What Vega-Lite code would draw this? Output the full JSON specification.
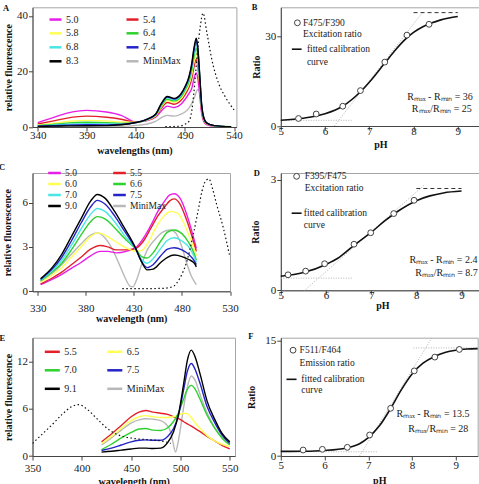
{
  "$schema": "https://vega.github.io/schema/vega-lite/v6.json",
  "autosize": {"type": "none"},
  "padding": {"left": 32.5, "top": 7.3, "right": 446.5, "bottom": 476.7},
  "columns": 2,
  "align": {"row": "each", "column": "none"},
  "bounds": "flush",
  "spacing": {"row": 45.7, "column": 44.3},
  "resolve": {"scale": {"color": "independent"}, "legend": {"color": "independent"}},
  "config": {
    "font": "Liberation Serif",
    "view": {"stroke": "#a6a6a6", "strokeWidth": 1},
    "axis": {"grid": false, "domainColor": "#444", "tickColor": "#444", "tickSize": 4, "labelFont": "Liberation Serif", "labelFontSize": 11, "labelColor": "#1a1a1a", "labelPadding": 1, "labelFlush": false, "labelOverlap": false, "titleFont": "Liberation Serif", "titleFontSize": 10, "titleFontWeight": "bold", "titleColor": "#111", "titlePadding": 3},
    "legend": {"symbolType": "stroke", "symbolStrokeWidth": 2.5, "labelFont": "Liberation Serif", "labelFontSize": 10, "labelColor": "#1a1a1a", "labelOffset": 3, "padding": 0, "direction": "horizontal"},
    "title": {"font": "Liberation Serif", "fontSize": 8.5, "fontWeight": "bold", "anchor": "start", "frame": "group", "offset": 0, "color": "#111"},
    "text": {"font": "Liberation Serif"}
  },
  "datasets": {
    "spectraA": [
      {"w":340,"v":0.1,"s":"MiniMax"},{"w":390,"v":0.15,"s":"MiniMax"},{"w":425,"v":0.25,"s":"MiniMax"},{"w":440,"v":0.6,"s":"MiniMax"},{"w":450,"v":1.0,"s":"MiniMax"},{"w":460,"v":2.0,"s":"MiniMax"},{"w":466,"v":3.4,"s":"MiniMax"},{"w":472,"v":4.2,"s":"MiniMax"},{"w":479,"v":3.9,"s":"MiniMax"},{"w":486,"v":4.6,"s":"MiniMax"},{"w":490,"v":5.4,"s":"MiniMax"},{"w":494,"v":6.8,"s":"MiniMax"},{"w":497,"v":8.5,"s":"MiniMax"},{"w":500,"v":11.0,"s":"MiniMax"},{"w":503,"v":13.5,"s":"MiniMax"},{"w":505,"v":12.5,"s":"MiniMax"},{"w":507,"v":8.0,"s":"MiniMax"},{"w":509,"v":4.0,"s":"MiniMax"},{"w":512,"v":1.5,"s":"MiniMax"},{"w":520,"v":0.4,"s":"MiniMax"},{"w":537,"v":0.1,"s":"MiniMax"},
      {"w":340,"v":1.6,"s":"5.0"},{"w":355,"v":3.3,"s":"5.0"},{"w":370,"v":5.0,"s":"5.0"},{"w":390,"v":6.0,"s":"5.0"},{"w":410,"v":5.4,"s":"5.0"},{"w":425,"v":4.2,"s":"5.0"},{"w":440,"v":1.8,"s":"5.0"},{"w":450,"v":2.2,"s":"5.0"},{"w":460,"v":3.5,"s":"5.0"},{"w":466,"v":5.8,"s":"5.0"},{"w":472,"v":7.5,"s":"5.0"},{"w":479,"v":7.0,"s":"5.0"},{"w":486,"v":8.2,"s":"5.0"},{"w":490,"v":9.9,"s":"5.0"},{"w":494,"v":12.0,"s":"5.0"},{"w":497,"v":14.0,"s":"5.0"},{"w":499,"v":17.1,"s":"5.0"},{"w":501.5,"v":19.5,"s":"5.0"},{"w":503,"v":17.7,"s":"5.0"},{"w":505,"v":11.6,"s":"5.0"},{"w":507,"v":4.9,"s":"5.0"},{"w":509,"v":2.1,"s":"5.0"},{"w":512,"v":0.9,"s":"5.0"},{"w":520,"v":0.3,"s":"5.0"},{"w":537,"v":0.1,"s":"5.0"},
      {"w":340,"v":1.1,"s":"5.4"},{"w":355,"v":2.1,"s":"5.4"},{"w":370,"v":3.2,"s":"5.4"},{"w":390,"v":3.9,"s":"5.4"},{"w":410,"v":3.5,"s":"5.4"},{"w":425,"v":2.8,"s":"5.4"},{"w":440,"v":1.75,"s":"5.4"},{"w":450,"v":2.3,"s":"5.4"},{"w":460,"v":3.8,"s":"5.4"},{"w":466,"v":6.8,"s":"5.4"},{"w":472,"v":8.8,"s":"5.4"},{"w":479,"v":8.2,"s":"5.4"},{"w":486,"v":9.6,"s":"5.4"},{"w":490,"v":11.6,"s":"5.4"},{"w":494,"v":14.2,"s":"5.4"},{"w":497,"v":17.5,"s":"5.4"},{"w":499,"v":21.3,"s":"5.4"},{"w":501.5,"v":24.3,"s":"5.4"},{"w":503,"v":22.0,"s":"5.4"},{"w":505,"v":14.4,"s":"5.4"},{"w":507,"v":6.1,"s":"5.4"},{"w":509,"v":2.7,"s":"5.4"},{"w":512,"v":1.1,"s":"5.4"},{"w":520,"v":0.4,"s":"5.4"},{"w":537,"v":0.1,"s":"5.4"},
      {"w":340,"v":0.7,"s":"5.8"},{"w":355,"v":1.3,"s":"5.8"},{"w":370,"v":2.0,"s":"5.8"},{"w":390,"v":2.4,"s":"5.8"},{"w":410,"v":2.2,"s":"5.8"},{"w":425,"v":1.8,"s":"5.8"},{"w":440,"v":1.7,"s":"5.8"},{"w":450,"v":2.4,"s":"5.8"},{"w":460,"v":4.0,"s":"5.8"},{"w":466,"v":7.3,"s":"5.8"},{"w":472,"v":9.5,"s":"5.8"},{"w":479,"v":8.9,"s":"5.8"},{"w":486,"v":10.3,"s":"5.8"},{"w":490,"v":12.5,"s":"5.8"},{"w":494,"v":15.3,"s":"5.8"},{"w":497,"v":19.1,"s":"5.8"},{"w":499,"v":23.2,"s":"5.8"},{"w":501.5,"v":26.6,"s":"5.8"},{"w":503,"v":24.1,"s":"5.8"},{"w":505,"v":15.8,"s":"5.8"},{"w":507,"v":6.6,"s":"5.8"},{"w":509,"v":2.9,"s":"5.8"},{"w":512,"v":1.25,"s":"5.8"},{"w":520,"v":0.4,"s":"5.8"},{"w":537,"v":0.1,"s":"5.8"},
      {"w":340,"v":0.5,"s":"6.4"},{"w":355,"v":0.9,"s":"6.4"},{"w":370,"v":1.4,"s":"6.4"},{"w":390,"v":1.7,"s":"6.4"},{"w":410,"v":1.55,"s":"6.4"},{"w":425,"v":1.3,"s":"6.4"},{"w":440,"v":1.65,"s":"6.4"},{"w":450,"v":2.5,"s":"6.4"},{"w":460,"v":4.2,"s":"6.4"},{"w":466,"v":7.7,"s":"6.4"},{"w":472,"v":10.0,"s":"6.4"},{"w":479,"v":9.4,"s":"6.4"},{"w":486,"v":10.9,"s":"6.4"},{"w":490,"v":13.2,"s":"6.4"},{"w":494,"v":16.2,"s":"6.4"},{"w":497,"v":20.5,"s":"6.4"},{"w":499,"v":24.9,"s":"6.4"},{"w":501.5,"v":28.5,"s":"6.4"},{"w":503,"v":25.8,"s":"6.4"},{"w":505,"v":16.9,"s":"6.4"},{"w":507,"v":7.1,"s":"6.4"},{"w":509,"v":3.1,"s":"6.4"},{"w":512,"v":1.3,"s":"6.4"},{"w":520,"v":0.45,"s":"6.4"},{"w":537,"v":0.1,"s":"6.4"},
      {"w":340,"v":0.35,"s":"6.8"},{"w":355,"v":0.65,"s":"6.8"},{"w":370,"v":1.0,"s":"6.8"},{"w":390,"v":1.2,"s":"6.8"},{"w":410,"v":1.1,"s":"6.8"},{"w":425,"v":1.0,"s":"6.8"},{"w":440,"v":1.6,"s":"6.8"},{"w":450,"v":2.5,"s":"6.8"},{"w":460,"v":4.4,"s":"6.8"},{"w":466,"v":8.1,"s":"6.8"},{"w":472,"v":10.5,"s":"6.8"},{"w":479,"v":9.8,"s":"6.8"},{"w":486,"v":11.5,"s":"6.8"},{"w":490,"v":13.8,"s":"6.8"},{"w":494,"v":17.0,"s":"6.8"},{"w":497,"v":21.7,"s":"6.8"},{"w":499,"v":26.5,"s":"6.8"},{"w":501.5,"v":30.2,"s":"6.8"},{"w":503,"v":27.4,"s":"6.8"},{"w":505,"v":18.0,"s":"6.8"},{"w":507,"v":7.6,"s":"6.8"},{"w":509,"v":3.3,"s":"6.8"},{"w":512,"v":1.4,"s":"6.8"},{"w":520,"v":0.5,"s":"6.8"},{"w":537,"v":0.1,"s":"6.8"},
      {"w":340,"v":0.3,"s":"7.4"},{"w":355,"v":0.45,"s":"7.4"},{"w":370,"v":0.65,"s":"7.4"},{"w":390,"v":0.8,"s":"7.4"},{"w":410,"v":0.75,"s":"7.4"},{"w":425,"v":0.9,"s":"7.4"},{"w":440,"v":1.6,"s":"7.4"},{"w":450,"v":2.6,"s":"7.4"},{"w":460,"v":4.5,"s":"7.4"},{"w":466,"v":8.3,"s":"7.4"},{"w":472,"v":10.8,"s":"7.4"},{"w":479,"v":10.1,"s":"7.4"},{"w":486,"v":11.8,"s":"7.4"},{"w":490,"v":14.2,"s":"7.4"},{"w":494,"v":17.6,"s":"7.4"},{"w":497,"v":22.4,"s":"7.4"},{"w":499,"v":27.3,"s":"7.4"},{"w":501.5,"v":31.2,"s":"7.4"},{"w":503,"v":28.3,"s":"7.4"},{"w":505,"v":18.5,"s":"7.4"},{"w":507,"v":7.8,"s":"7.4"},{"w":509,"v":3.4,"s":"7.4"},{"w":512,"v":1.5,"s":"7.4"},{"w":520,"v":0.5,"s":"7.4"},{"w":537,"v":0.1,"s":"7.4"},
      {"w":340,"v":0.2,"s":"8.3"},{"w":355,"v":0.3,"s":"8.3"},{"w":370,"v":0.4,"s":"8.3"},{"w":390,"v":0.45,"s":"8.3"},{"w":410,"v":0.5,"s":"8.3"},{"w":425,"v":0.8,"s":"8.3"},{"w":440,"v":1.6,"s":"8.3"},{"w":450,"v":2.6,"s":"8.3"},{"w":460,"v":4.6,"s":"8.3"},{"w":466,"v":8.5,"s":"8.3"},{"w":472,"v":11.0,"s":"8.3"},{"w":479,"v":10.3,"s":"8.3"},{"w":486,"v":12.0,"s":"8.3"},{"w":490,"v":14.5,"s":"8.3"},{"w":494,"v":18.0,"s":"8.3"},{"w":497,"v":23.0,"s":"8.3"},{"w":499,"v":28.0,"s":"8.3"},{"w":501.5,"v":32.0,"s":"8.3"},{"w":503,"v":29.0,"s":"8.3"},{"w":505,"v":19.0,"s":"8.3"},{"w":507,"v":8.0,"s":"8.3"},{"w":509,"v":3.5,"s":"8.3"},{"w":512,"v":1.5,"s":"8.3"},{"w":520,"v":0.5,"s":"8.3"},{"w":537,"v":0.1,"s":"8.3"}
    ],
    "dottedA": [
      {"w":470,"v":0.1},{"w":485,"v":0.3},{"w":490,"v":1.0},{"w":494,"v":2.0},{"w":497,"v":6.0},{"w":499,"v":12.0},{"w":501,"v":20.0},{"w":503,"v":28.0},{"w":505.6,"v":36.2},{"w":508.4,"v":41.0},{"w":512.4,"v":33.8},{"w":517.5,"v":24.1},{"w":524.3,"v":15.7},{"w":531,"v":10.9},{"w":540,"v":6.2}
    ],
    "pointsB": [
      {"x":5.4,"y":2.5},{"x":5.8,"y":4.0},{"x":6.4,"y":6.6},{"x":6.8,"y":11.8},{"x":7.35,"y":21.3},{"x":7.85,"y":30.3},{"x":8.35,"y":33.9}
    ],
    "fitB": [
      {"x":5.0,"y":1.9},{"x":5.5,"y":2.6},{"x":6.0,"y":4.1},{"x":6.4,"y":6.6},{"x":6.8,"y":11.4},{"x":7.0,"y":14.6},{"x":7.2,"y":18.2},{"x":7.4,"y":21.9},{"x":7.6,"y":25.5},{"x":7.8,"y":28.7},{"x":8.0,"y":31.2},{"x":8.2,"y":33.0},{"x":8.4,"y":34.3},{"x":8.6,"y":35.3},{"x":8.8,"y":36.0},{"x":9.0,"y":36.5}
    ],
    "guidesB": [{"x":6.21,"y":0,"x2":8.21,"y2":38},{"x":5.0,"y":1.9,"x2":6.6,"y2":1.9}],
    "capB": [{"x":8.0,"y":37.8,"x2":9.0,"y2":37.8}],
    "keyPtB": [{"x":5.375,"y":34.4}],
    "keyLineB": [{"x":5.25,"x2":5.47,"y":25.6}],
    "notesB": [
      {"x":5.5,"y":34.4,"t":"F475/F390"},{"x":5.5,"y":30.6,"t":"Excitation ratio"},{"x":5.59,"y":25.6,"t":"fitted calibration"},{"x":5.59,"y":21.4,"t":"curve"}
    ],
    "ratiosB": [{"x":8.6,"y":9.8,"t":"Rₘₐₓ - Rₘᵢₙ = 36"},{"x":8.64,"y":5.7,"t":"Rₘₐₓ/Rₘᵢₙ = 25"}],
    "spectraC": [
      {"w":333,"v":0.65,"s":"MiniMax"},{"w":345,"v":1.2,"s":"MiniMax"},{"w":355,"v":1.8,"s":"MiniMax"},{"w":365,"v":2.5,"s":"MiniMax"},{"w":375,"v":3.2,"s":"MiniMax"},{"w":385,"v":3.8,"s":"MiniMax"},{"w":392,"v":3.95,"s":"MiniMax"},{"w":400,"v":3.6,"s":"MiniMax"},{"w":408,"v":2.8,"s":"MiniMax"},{"w":415,"v":1.8,"s":"MiniMax"},{"w":421,"v":0.9,"s":"MiniMax"},{"w":426,"v":0.35,"s":"MiniMax"},{"w":429,"v":0.3,"s":"MiniMax"},{"w":433,"v":0.8,"s":"MiniMax"},{"w":438,"v":1.8,"s":"MiniMax"},{"w":444,"v":2.8,"s":"MiniMax"},{"w":452,"v":3.5,"s":"MiniMax"},{"w":460,"v":4.0,"s":"MiniMax"},{"w":468,"v":4.15,"s":"MiniMax"},{"w":474,"v":3.9,"s":"MiniMax"},{"w":480,"v":3.0,"s":"MiniMax"},{"w":485,"v":1.9,"s":"MiniMax"},{"w":490,"v":1.0,"s":"MiniMax"},{"w":495,"v":0.45,"s":"MiniMax"},
      {"w":333,"v":0.45,"s":"5.0"},{"w":345,"v":0.8,"s":"5.0"},{"w":355,"v":1.15,"s":"5.0"},{"w":365,"v":1.55,"s":"5.0"},{"w":375,"v":1.95,"s":"5.0"},{"w":385,"v":2.4,"s":"5.0"},{"w":395,"v":2.7,"s":"5.0"},{"w":403,"v":2.7,"s":"5.0"},{"w":412,"v":2.6,"s":"5.0"},{"w":422,"v":2.7,"s":"5.0"},{"w":432,"v":2.95,"s":"5.0"},{"w":440,"v":3.6,"s":"5.0"},{"w":448,"v":4.5,"s":"5.0"},{"w":455,"v":5.4,"s":"5.0"},{"w":462,"v":6.1,"s":"5.0"},{"w":467,"v":6.5,"s":"5.0"},{"w":472,"v":6.6,"s":"5.0"},{"w":478,"v":6.3,"s":"5.0"},{"w":485,"v":5.2,"s":"5.0"},{"w":491,"v":3.9,"s":"5.0"},{"w":495,"v":2.9,"s":"5.0"},
      {"w":333,"v":0.5,"s":"5.5"},{"w":345,"v":0.9,"s":"5.5"},{"w":355,"v":1.3,"s":"5.5"},{"w":365,"v":1.8,"s":"5.5"},{"w":375,"v":2.3,"s":"5.5"},{"w":385,"v":2.85,"s":"5.5"},{"w":395,"v":3.1,"s":"5.5"},{"w":403,"v":3.0,"s":"5.5"},{"w":412,"v":2.8,"s":"5.5"},{"w":422,"v":2.8,"s":"5.5"},{"w":432,"v":2.9,"s":"5.5"},{"w":440,"v":3.4,"s":"5.5"},{"w":448,"v":4.3,"s":"5.5"},{"w":455,"v":5.1,"s":"5.5"},{"w":462,"v":5.7,"s":"5.5"},{"w":467,"v":6.1,"s":"5.5"},{"w":472,"v":6.25,"s":"5.5"},{"w":478,"v":5.9,"s":"5.5"},{"w":485,"v":4.8,"s":"5.5"},{"w":491,"v":3.6,"s":"5.5"},{"w":495,"v":2.7,"s":"5.5"},
      {"w":333,"v":0.6,"s":"6.0"},{"w":345,"v":1.1,"s":"6.0"},{"w":355,"v":1.6,"s":"6.0"},{"w":365,"v":2.3,"s":"6.0"},{"w":375,"v":3.0,"s":"6.0"},{"w":385,"v":3.7,"s":"6.0"},{"w":393,"v":3.95,"s":"6.0"},{"w":400,"v":3.8,"s":"6.0"},{"w":410,"v":3.4,"s":"6.0"},{"w":420,"v":3.0,"s":"6.0"},{"w":432,"v":2.7,"s":"6.0"},{"w":438,"v":2.75,"s":"6.0"},{"w":445,"v":3.3,"s":"6.0"},{"w":452,"v":4.2,"s":"6.0"},{"w":460,"v":5.0,"s":"6.0"},{"w":468,"v":5.4,"s":"6.0"},{"w":475,"v":5.3,"s":"6.0"},{"w":482,"v":4.6,"s":"6.0"},{"w":489,"v":3.5,"s":"6.0"},{"w":495,"v":2.4,"s":"6.0"},
      {"w":333,"v":0.7,"s":"6.6"},{"w":345,"v":1.3,"s":"6.6"},{"w":355,"v":1.9,"s":"6.6"},{"w":365,"v":2.8,"s":"6.6"},{"w":375,"v":3.8,"s":"6.6"},{"w":385,"v":4.7,"s":"6.6"},{"w":392,"v":5.05,"s":"6.6"},{"w":400,"v":4.9,"s":"6.6"},{"w":410,"v":4.3,"s":"6.6"},{"w":420,"v":3.6,"s":"6.6"},{"w":432,"v":2.85,"s":"6.6"},{"w":438,"v":2.35,"s":"6.6"},{"w":444,"v":2.25,"s":"6.6"},{"w":450,"v":2.6,"s":"6.6"},{"w":458,"v":3.4,"s":"6.6"},{"w":465,"v":4.0,"s":"6.6"},{"w":472,"v":4.15,"s":"6.6"},{"w":480,"v":3.9,"s":"6.6"},{"w":487,"v":3.3,"s":"6.6"},{"w":493,"v":2.5,"s":"6.6"},{"w":495,"v":2.1,"s":"6.6"},
      {"w":333,"v":0.75,"s":"7.0"},{"w":345,"v":1.4,"s":"7.0"},{"w":355,"v":2.1,"s":"7.0"},{"w":365,"v":3.1,"s":"7.0"},{"w":375,"v":4.2,"s":"7.0"},{"w":385,"v":5.2,"s":"7.0"},{"w":392,"v":5.6,"s":"7.0"},{"w":400,"v":5.4,"s":"7.0"},{"w":410,"v":4.7,"s":"7.0"},{"w":420,"v":3.8,"s":"7.0"},{"w":432,"v":2.85,"s":"7.0"},{"w":438,"v":2.15,"s":"7.0"},{"w":444,"v":1.9,"s":"7.0"},{"w":450,"v":2.2,"s":"7.0"},{"w":458,"v":2.9,"s":"7.0"},{"w":465,"v":3.45,"s":"7.0"},{"w":472,"v":3.62,"s":"7.0"},{"w":480,"v":3.4,"s":"7.0"},{"w":487,"v":3.0,"s":"7.0"},{"w":493,"v":2.3,"s":"7.0"},{"w":495,"v":1.95,"s":"7.0"},
      {"w":333,"v":0.8,"s":"7.5"},{"w":345,"v":1.5,"s":"7.5"},{"w":355,"v":2.3,"s":"7.5"},{"w":365,"v":3.4,"s":"7.5"},{"w":375,"v":4.6,"s":"7.5"},{"w":385,"v":5.7,"s":"7.5"},{"w":392,"v":6.15,"s":"7.5"},{"w":400,"v":5.9,"s":"7.5"},{"w":410,"v":5.1,"s":"7.5"},{"w":420,"v":4.1,"s":"7.5"},{"w":432,"v":2.85,"s":"7.5"},{"w":438,"v":2.0,"s":"7.5"},{"w":444,"v":1.6,"s":"7.5"},{"w":450,"v":1.8,"s":"7.5"},{"w":458,"v":2.4,"s":"7.5"},{"w":465,"v":2.85,"s":"7.5"},{"w":472,"v":2.95,"s":"7.5"},{"w":480,"v":2.8,"s":"7.5"},{"w":487,"v":2.5,"s":"7.5"},{"w":493,"v":2.05,"s":"7.5"},{"w":495,"v":1.8,"s":"7.5"},
      {"w":333,"v":0.85,"s":"9.0"},{"w":345,"v":1.6,"s":"9.0"},{"w":355,"v":2.5,"s":"9.0"},{"w":365,"v":3.7,"s":"9.0"},{"w":375,"v":4.9,"s":"9.0"},{"w":385,"v":6.1,"s":"9.0"},{"w":392,"v":6.55,"s":"9.0"},{"w":400,"v":6.3,"s":"9.0"},{"w":410,"v":5.4,"s":"9.0"},{"w":420,"v":4.3,"s":"9.0"},{"w":432,"v":2.9,"s":"9.0"},{"w":438,"v":2.0,"s":"9.0"},{"w":444,"v":1.45,"s":"9.0"},{"w":450,"v":1.5,"s":"9.0"},{"w":458,"v":1.95,"s":"9.0"},{"w":465,"v":2.3,"s":"9.0"},{"w":472,"v":2.45,"s":"9.0"},{"w":480,"v":2.35,"s":"9.0"},{"w":487,"v":2.15,"s":"9.0"},{"w":493,"v":1.9,"s":"9.0"},{"w":495,"v":1.65,"s":"9.0"}
    ],
    "dottedC": [
      {"w":418,"v":0.18},{"w":440,"v":0.18},{"w":460,"v":0.2},{"w":470,"v":0.3},{"w":478,"v":0.9},{"w":485,"v":2.0},{"w":492,"v":3.9},{"w":497,"v":5.5},{"w":501,"v":6.8},{"w":505,"v":7.5},{"w":508,"v":7.6},{"w":512,"v":6.9},{"w":516,"v":5.9},{"w":523,"v":4.3},{"w":530,"v":2.3}
    ],
    "pointsD": [
      {"x":5.16,"y":0.42},{"x":5.55,"y":0.52},{"x":5.97,"y":0.72},{"x":6.62,"y":1.25},{"x":6.99,"y":1.56},{"x":7.5,"y":2.08},{"x":7.95,"y":2.44}
    ],
    "fitD": [
      {"x":5.0,"y":0.38},{"x":5.5,"y":0.48},{"x":6.0,"y":0.7},{"x":6.3,"y":0.9},{"x":6.6,"y":1.2},{"x":7.0,"y":1.57},{"x":7.3,"y":1.88},{"x":7.6,"y":2.15},{"x":8.0,"y":2.43},{"x":8.3,"y":2.56},{"x":8.6,"y":2.64},{"x":9.0,"y":2.69}
    ],
    "guidesD": [{"x":5.53,"y":0,"x2":8.19,"y2":2.87},{"x":5.0,"y":0.33,"x2":6.6,"y2":0.33}],
    "capD": [{"x":8.0,"y":2.76,"x2":9.0,"y2":2.76}],
    "keyPtD": [{"x":5.35,"y":3.09}],
    "keyLineD": [{"x":5.24,"x2":5.46,"y":2.09}],
    "notesD": [
      {"x":5.53,"y":3.09,"t":"F395/F475"},{"x":5.53,"y":2.78,"t":"Excitation ratio"},{"x":5.51,"y":2.09,"t":"fitted calibration"},{"x":5.51,"y":1.76,"t":"curve"}
    ],
    "ratiosD": [{"x":8.6,"y":0.83,"t":"Rₘₐₓ - Rₘᵢₙ = 2.4"},{"x":8.67,"y":0.48,"t":"Rₘₐₓ/Rₘᵢₙ = 8.7"}],
    "spectraE": [
      {"w":420,"v":1.4,"s":"MiniMax"},{"w":430,"v":2.3,"s":"MiniMax"},{"w":440,"v":3.3,"s":"MiniMax"},{"w":450,"v":4.2,"s":"MiniMax"},{"w":458,"v":4.6,"s":"MiniMax"},{"w":465,"v":4.75,"s":"MiniMax"},{"w":472,"v":4.7,"s":"MiniMax"},{"w":480,"v":4.5,"s":"MiniMax"},{"w":485,"v":4.1,"s":"MiniMax"},{"w":489,"v":3.4,"s":"MiniMax"},{"w":492,"v":2.0,"s":"MiniMax"},{"w":495,"v":0.5,"s":"MiniMax"},{"w":498,"v":2.0,"s":"MiniMax"},{"w":503,"v":6.0,"s":"MiniMax"},{"w":507,"v":8.8,"s":"MiniMax"},{"w":511,"v":10.2,"s":"MiniMax"},{"w":515,"v":9.6,"s":"MiniMax"},{"w":520,"v":7.8,"s":"MiniMax"},{"w":527,"v":5.5,"s":"MiniMax"},{"w":535,"v":3.6,"s":"MiniMax"},{"w":542,"v":2.4,"s":"MiniMax"},{"w":550,"v":1.5,"s":"MiniMax"},
      {"w":420,"v":1.8,"s":"5.5"},{"w":430,"v":2.8,"s":"5.5"},{"w":440,"v":3.9,"s":"5.5"},{"w":450,"v":5.0,"s":"5.5"},{"w":458,"v":5.6,"s":"5.5"},{"w":465,"v":5.8,"s":"5.5"},{"w":472,"v":5.6,"s":"5.5"},{"w":480,"v":5.45,"s":"5.5"},{"w":487,"v":5.3,"s":"5.5"},{"w":493,"v":5.0,"s":"5.5"},{"w":498,"v":4.75,"s":"5.5"},{"w":503,"v":4.4,"s":"5.5"},{"w":507,"v":4.1,"s":"5.5"},{"w":511,"v":3.8,"s":"5.5"},{"w":515,"v":3.5,"s":"5.5"},{"w":520,"v":3.1,"s":"5.5"},{"w":527,"v":2.5,"s":"5.5"},{"w":535,"v":1.9,"s":"5.5"},{"w":542,"v":1.35,"s":"5.5"},{"w":550,"v":0.9,"s":"5.5"},
      {"w":420,"v":1.6,"s":"6.5"},{"w":430,"v":2.5,"s":"6.5"},{"w":440,"v":3.5,"s":"6.5"},{"w":450,"v":4.5,"s":"6.5"},{"w":458,"v":5.0,"s":"6.5"},{"w":465,"v":5.15,"s":"6.5"},{"w":472,"v":5.0,"s":"6.5"},{"w":480,"v":4.9,"s":"6.5"},{"w":487,"v":4.9,"s":"6.5"},{"w":493,"v":5.0,"s":"6.5"},{"w":498,"v":5.2,"s":"6.5"},{"w":503,"v":5.45,"s":"6.5"},{"w":507,"v":5.4,"s":"6.5"},{"w":511,"v":4.9,"s":"6.5"},{"w":515,"v":4.2,"s":"6.5"},{"w":520,"v":3.5,"s":"6.5"},{"w":527,"v":2.6,"s":"6.5"},{"w":535,"v":1.9,"s":"6.5"},{"w":542,"v":1.5,"s":"6.5"},{"w":550,"v":1.2,"s":"6.5"},
      {"w":420,"v":0.8,"s":"7.0"},{"w":430,"v":1.5,"s":"7.0"},{"w":440,"v":2.3,"s":"7.0"},{"w":450,"v":3.0,"s":"7.0"},{"w":458,"v":3.45,"s":"7.0"},{"w":465,"v":3.5,"s":"7.0"},{"w":472,"v":3.3,"s":"7.0"},{"w":480,"v":3.25,"s":"7.0"},{"w":487,"v":3.6,"s":"7.0"},{"w":493,"v":4.4,"s":"7.0"},{"w":498,"v":5.5,"s":"7.0"},{"w":503,"v":7.2,"s":"7.0"},{"w":507,"v":8.5,"s":"7.0"},{"w":511,"v":9.0,"s":"7.0"},{"w":515,"v":8.5,"s":"7.0"},{"w":520,"v":7.2,"s":"7.0"},{"w":527,"v":5.2,"s":"7.0"},{"w":535,"v":3.5,"s":"7.0"},{"w":542,"v":2.3,"s":"7.0"},{"w":550,"v":1.4,"s":"7.0"},
      {"w":420,"v":0.7,"s":"7.5"},{"w":430,"v":1.0,"s":"7.5"},{"w":440,"v":1.4,"s":"7.5"},{"w":450,"v":1.8,"s":"7.5"},{"w":458,"v":2.0,"s":"7.5"},{"w":465,"v":2.05,"s":"7.5"},{"w":472,"v":2.0,"s":"7.5"},{"w":480,"v":2.0,"s":"7.5"},{"w":487,"v":2.5,"s":"7.5"},{"w":493,"v":3.5,"s":"7.5"},{"w":498,"v":5.2,"s":"7.5"},{"w":503,"v":8.3,"s":"7.5"},{"w":507,"v":10.8,"s":"7.5"},{"w":511,"v":11.8,"s":"7.5"},{"w":515,"v":11.0,"s":"7.5"},{"w":520,"v":9.2,"s":"7.5"},{"w":527,"v":6.3,"s":"7.5"},{"w":535,"v":4.2,"s":"7.5"},{"w":542,"v":2.7,"s":"7.5"},{"w":550,"v":1.6,"s":"7.5"},
      {"w":420,"v":0.5,"s":"9.1"},{"w":430,"v":0.6,"s":"9.1"},{"w":440,"v":0.75,"s":"9.1"},{"w":450,"v":0.9,"s":"9.1"},{"w":458,"v":1.0,"s":"9.1"},{"w":465,"v":1.0,"s":"9.1"},{"w":472,"v":0.95,"s":"9.1"},{"w":480,"v":1.0,"s":"9.1"},{"w":487,"v":1.7,"s":"9.1"},{"w":493,"v":3.1,"s":"9.1"},{"w":498,"v":5.3,"s":"9.1"},{"w":503,"v":9.0,"s":"9.1"},{"w":507,"v":12.2,"s":"9.1"},{"w":511,"v":13.5,"s":"9.1"},{"w":515,"v":12.6,"s":"9.1"},{"w":520,"v":10.4,"s":"9.1"},{"w":527,"v":7.0,"s":"9.1"},{"w":535,"v":4.6,"s":"9.1"},{"w":542,"v":2.9,"s":"9.1"},{"w":550,"v":1.8,"s":"9.1"}
    ],
    "dottedE": [
      {"w":350,"v":1.6},{"w":360,"v":2.8},{"w":370,"v":4.0},{"w":380,"v":5.3},{"w":390,"v":6.3},{"w":397,"v":6.55},{"w":405,"v":6.0},{"w":415,"v":4.8},{"w":425,"v":3.6},{"w":435,"v":2.8},{"w":445,"v":2.4},{"w":455,"v":2.2},{"w":465,"v":2.1},{"w":475,"v":2.0},{"w":485,"v":1.8},{"w":490,"v":1.6}
    ],
    "pointsF": [
      {"x":5.51,"y":0.78},{"x":5.95,"y":0.87},{"x":6.52,"y":1.13},{"x":7.03,"y":2.74},{"x":7.51,"y":6.22},{"x":8.05,"y":11.1},{"x":8.52,"y":12.9},{"x":9.08,"y":13.9}
    ],
    "fitF": [
      {"x":5.0,"y":0.6},{"x":5.5,"y":0.62},{"x":6.0,"y":0.72},{"x":6.5,"y":1.05},{"x":6.8,"y":1.6},{"x":7.0,"y":2.4},{"x":7.25,"y":3.9},{"x":7.5,"y":6.1},{"x":7.75,"y":8.6},{"x":8.0,"y":10.7},{"x":8.25,"y":12.1},{"x":8.5,"y":12.95},{"x":8.75,"y":13.5},{"x":9.0,"y":13.8},{"x":9.25,"y":13.95},{"x":9.5,"y":14.0}
    ],
    "guidesF": [{"x":6.8,"y":0,"x2":8.45,"y2":15.4},{"x":5.0,"y":0.55,"x2":7.2,"y2":0.55},{"x":8.03,"y":14.1,"x2":9.5,"y2":14.1}],
    "keyPtF": [{"x":5.28,"y":13.8}],
    "keyLineF": [{"x":5.13,"x2":5.36,"y":10.0}],
    "notesF": [
      {"x":5.43,"y":13.8,"t":"F511/F464"},{"x":5.43,"y":12.1,"t":"Emission ratio"},{"x":5.47,"y":10.0,"t":"fitted calibration"},{"x":5.47,"y":8.6,"t":"curve"}
    ],
    "ratiosF": [{"x":8.48,"y":5.44,"t":"Rₘₐₓ - Rₘᵢₙ = 13.5"},{"x":8.6,"y":3.48,"t":"Rₘₐₓ/Rₘᵢₙ = 28"}]
  },
  "concat": [
    {
      "width": 203.9, "height": 119.7,
      "title": {"text": "A", "dx": -29.5, "dy": 9},
      "layer": [
        {
          "data": {"name": "spectraA"},
          "mark": {"type": "line", "interpolate": "monotone", "strokeWidth": 1.4, "clip": true},
          "encoding": {
            "x": {"field": "w", "type": "quantitative", "scale": {"domain": [334.7, 542.4], "nice": false, "zero": false}, "axis": {"values": [340, 390, 440, 490, 540], "title": "wavelengths (nm)", "labelPadding": -2, "titlePadding": 5}},
            "y": {"field": "v", "type": "quantitative", "scale": {"domain": [0, 43.1], "nice": false}, "axis": {"values": [0, 10, 20, 30, 40], "title": "relative fluorescence"}},
            "color": {"field": "s", "type": "nominal",
              "scale": {"domain": ["5.0", "5.4", "5.8", "6.4", "6.8", "7.4", "8.3", "MiniMax"], "range": ["#e81ee8", "#e3202a", "#ffff55", "#2fd12f", "#4ae6e6", "#2424c8", "#000000", "#b8b8b8"]},
              "legend": {"title": null, "orient": "none", "legendX": 15.5, "legendY": 4.5, "columns": 2, "columnPadding": 42, "rowPadding": 1, "symbolSize": 144}}
          }
        },
        {
          "data": {"name": "dottedA"},
          "mark": {"type": "line", "interpolate": "monotone", "color": "#111", "strokeWidth": 1.2, "strokeDash": [1.5, 2.5], "clip": true},
          "encoding": {"x": {"field": "w", "type": "quantitative"}, "y": {"field": "v", "type": "quantitative"}}
        }
      ]
    },
    {
      "width": 199.1, "height": 118.7,
      "title": {"text": "B", "dx": -29, "dy": 8},
      "layer": [
        {
          "data": {"name": "guidesB"},
          "mark": {"type": "rule", "color": "#b4b4b4", "strokeDash": [1, 1.5], "strokeWidth": 1},
          "encoding": {
            "x": {"field": "x", "type": "quantitative", "scale": {"domain": [5, 9.5], "nice": false, "zero": false}, "axis": {"values": [5, 6, 7, 8, 9], "title": "pH", "labelPadding": -5, "titlePadding": 3}},
            "y": {"field": "y", "type": "quantitative", "scale": {"domain": [0, 39.57], "nice": false}, "axis": {"values": [0, 10, 20, 30], "title": "Ratio"}},
            "x2": {"field": "x2"}, "y2": {"field": "y2"}
          }
        },
        {
          "data": {"name": "capB"},
          "mark": {"type": "rule", "color": "#333", "strokeDash": [4, 3], "strokeWidth": 1},
          "encoding": {"x": {"field": "x", "type": "quantitative"}, "y": {"field": "y", "type": "quantitative"}, "x2": {"field": "x2"}, "y2": {"field": "y2"}}
        },
        {
          "data": {"name": "fitB"},
          "mark": {"type": "line", "interpolate": "monotone", "color": "#111", "strokeWidth": 1.6},
          "encoding": {"x": {"field": "x", "type": "quantitative"}, "y": {"field": "y", "type": "quantitative"}}
        },
        {
          "data": {"name": "pointsB"},
          "mark": {"type": "point", "shape": "circle", "filled": true, "fill": "white", "stroke": "#444", "strokeWidth": 1, "size": 34, "opacity": 1},
          "encoding": {"x": {"field": "x", "type": "quantitative"}, "y": {"field": "y", "type": "quantitative"}}
        },
        {
          "data": {"name": "keyPtB"},
          "mark": {"type": "point", "shape": "circle", "filled": true, "fill": "white", "stroke": "#444", "strokeWidth": 1, "size": 34, "opacity": 1},
          "encoding": {"x": {"field": "x", "type": "quantitative"}, "y": {"field": "y", "type": "quantitative"}}
        },
        {
          "data": {"name": "keyLineB"},
          "mark": {"type": "rule", "color": "#111", "strokeWidth": 1.6},
          "encoding": {"x": {"field": "x", "type": "quantitative"}, "x2": {"field": "x2"}, "y": {"field": "y", "type": "quantitative"}}
        },
        {
          "data": {"name": "notesB"},
          "mark": {"type": "text", "align": "left", "baseline": "middle", "fontSize": 9.5, "color": "#1a1a1a"},
          "encoding": {"x": {"field": "x", "type": "quantitative"}, "y": {"field": "y", "type": "quantitative"}, "text": {"field": "t"}}
        },
        {
          "data": {"name": "ratiosB"},
          "mark": {"type": "text", "align": "center", "baseline": "middle", "fontSize": 10, "color": "#1a1a1a"},
          "encoding": {"x": {"field": "x", "type": "quantitative"}, "y": {"field": "y", "type": "quantitative"}, "text": {"field": "t"}}
        }
      ]
    },
    {
      "width": 197.5, "height": 118.3,
      "title": {"text": "C", "dx": -33.5, "dy": 8},
      "layer": [
        {
          "data": {"name": "spectraC"},
          "mark": {"type": "line", "interpolate": "monotone", "strokeWidth": 1.4, "clip": true},
          "encoding": {
            "x": {"field": "w", "type": "quantitative", "scale": {"domain": [324.6, 530], "nice": false, "zero": false}, "axis": {"values": [330, 380, 430, 480, 530], "title": "wavelength (nm)", "labelPadding": 7, "titlePadding": 0}},
            "y": {"field": "v", "type": "quantitative", "scale": {"domain": [0, 8.0], "nice": false}, "axis": {"values": [0, 3, 6], "title": "relative fluorescence", "titlePadding": 10}},
            "color": {"field": "s", "type": "nominal",
              "scale": {"domain": ["5.0", "5.5", "6.0", "6.6", "7.0", "7.5", "9.0", "MiniMax"], "range": ["#e81ee8", "#e3202a", "#ffff55", "#2fd12f", "#4ae6e6", "#2424c8", "#000000", "#b8b8b8"]},
              "legend": {"title": null, "orient": "none", "legendX": 16, "legendY": -6, "columns": 2, "columnPadding": 30, "rowPadding": 0, "symbolSize": 81, "symbolType": "M-1.4,0H1.4", "labelOffset": 4.5, "labelFontSize": 9.5}}
          }
        },
        {
          "data": {"name": "dottedC"},
          "mark": {"type": "line", "interpolate": "monotone", "color": "#111", "strokeWidth": 1.2, "strokeDash": [1.5, 2.5], "clip": true},
          "encoding": {"x": {"field": "w", "type": "quantitative"}, "y": {"field": "v", "type": "quantitative"}}
        }
      ]
    },
    {
      "width": 203.3, "height": 117.3,
      "title": {"text": "D", "dx": -27, "dy": 10},
      "layer": [
        {
          "data": {"name": "guidesD"},
          "mark": {"type": "rule", "color": "#b4b4b4", "strokeDash": [1, 1.5], "strokeWidth": 1},
          "encoding": {
            "x": {"field": "x", "type": "quantitative", "scale": {"domain": [5, 9.5], "nice": false, "zero": false}, "axis": {"values": [5, 6, 7, 8, 9], "title": "pH", "labelPadding": -5, "titlePadding": 0}},
            "y": {"field": "y", "type": "quantitative", "scale": {"domain": [0, 3.18], "nice": false}, "axis": {"values": [0, 1, 2, 3], "title": "Ratio", "titlePadding": 10}},
            "x2": {"field": "x2"}, "y2": {"field": "y2"}
          }
        },
        {
          "data": {"name": "capD"},
          "mark": {"type": "rule", "color": "#333", "strokeDash": [4, 3], "strokeWidth": 1},
          "encoding": {"x": {"field": "x", "type": "quantitative"}, "y": {"field": "y", "type": "quantitative"}, "x2": {"field": "x2"}, "y2": {"field": "y2"}}
        },
        {
          "data": {"name": "fitD"},
          "mark": {"type": "line", "interpolate": "monotone", "color": "#111", "strokeWidth": 1.6},
          "encoding": {"x": {"field": "x", "type": "quantitative"}, "y": {"field": "y", "type": "quantitative"}}
        },
        {
          "data": {"name": "pointsD"},
          "mark": {"type": "point", "shape": "circle", "filled": true, "fill": "white", "stroke": "#444", "strokeWidth": 1, "size": 34, "opacity": 1},
          "encoding": {"x": {"field": "x", "type": "quantitative"}, "y": {"field": "y", "type": "quantitative"}}
        },
        {
          "data": {"name": "keyPtD"},
          "mark": {"type": "point", "shape": "circle", "filled": true, "fill": "white", "stroke": "#444", "strokeWidth": 1, "size": 34, "opacity": 1},
          "encoding": {"x": {"field": "x", "type": "quantitative"}, "y": {"field": "y", "type": "quantitative"}}
        },
        {
          "data": {"name": "keyLineD"},
          "mark": {"type": "rule", "color": "#111", "strokeWidth": 1.6},
          "encoding": {"x": {"field": "x", "type": "quantitative"}, "x2": {"field": "x2"}, "y": {"field": "y", "type": "quantitative"}}
        },
        {
          "data": {"name": "notesD"},
          "mark": {"type": "text", "align": "left", "baseline": "middle", "fontSize": 9.5, "color": "#1a1a1a"},
          "encoding": {"x": {"field": "x", "type": "quantitative"}, "y": {"field": "y", "type": "quantitative"}, "text": {"field": "t"}}
        },
        {
          "data": {"name": "ratiosD"},
          "mark": {"type": "text", "align": "center", "baseline": "middle", "fontSize": 10, "color": "#1a1a1a"},
          "encoding": {"x": {"field": "x", "type": "quantitative"}, "y": {"field": "y", "type": "quantitative"}, "text": {"field": "t"}}
        }
      ]
    },
    {
      "width": 202.5, "height": 118.3,
      "title": {"text": "E", "dx": -33, "dy": 8.6},
      "layer": [
        {
          "data": {"name": "spectraE"},
          "mark": {"type": "line", "interpolate": "monotone", "strokeWidth": 1.4, "clip": true},
          "encoding": {
            "x": {"field": "w", "type": "quantitative", "scale": {"domain": [350, 555.3], "nice": false, "zero": false}, "axis": {"values": [350, 400, 450, 500, 550], "title": "wavelength (nm)", "labelPadding": 2, "titlePadding": 3}},
            "y": {"field": "v", "type": "quantitative", "scale": {"domain": [0, 15.08], "nice": false}, "axis": {"values": [0, 3, 6, 9, 12, 15], "title": "relative fluorescence"}},
            "color": {"field": "s", "type": "nominal",
              "scale": {"domain": ["5.5", "6.5", "7.0", "7.5", "9.1", "MiniMax"], "range": ["#e3202a", "#ffff55", "#2fd12f", "#2424c8", "#000000", "#b8b8b8"]},
              "legend": {"title": null, "orient": "none", "legendX": 10.8, "legendY": 5.1, "columns": 2, "columnPadding": 24.5, "rowPadding": 4.5, "symbolSize": 225}}
          }
        },
        {
          "data": {"name": "dottedE"},
          "mark": {"type": "line", "interpolate": "monotone", "color": "#111", "strokeWidth": 1.2, "strokeDash": [1.5, 2.5], "clip": true},
          "encoding": {"x": {"field": "w", "type": "quantitative"}, "y": {"field": "v", "type": "quantitative"}}
        }
      ]
    },
    {
      "width": 196.9, "height": 118.3,
      "title": {"text": "F", "dx": -32.6, "dy": 9.6},
      "layer": [
        {
          "data": {"name": "guidesF"},
          "mark": {"type": "rule", "color": "#b4b4b4", "strokeDash": [1, 1.5], "strokeWidth": 1},
          "encoding": {
            "x": {"field": "x", "type": "quantitative", "scale": {"domain": [5, 9.5], "nice": false, "zero": false}, "axis": {"values": [5, 6, 7, 8, 9], "title": "pH", "labelPadding": -1, "titlePadding": 5}},
            "y": {"field": "y", "type": "quantitative", "scale": {"domain": [0, 15.43], "nice": false}, "axis": {"values": [0, 5, 10, 15], "title": "Ratio", "titlePadding": 8}},
            "x2": {"field": "x2"}, "y2": {"field": "y2"}
          }
        },
        {
          "data": {"name": "fitF"},
          "mark": {"type": "line", "interpolate": "monotone", "color": "#111", "strokeWidth": 1.6},
          "encoding": {"x": {"field": "x", "type": "quantitative"}, "y": {"field": "y", "type": "quantitative"}}
        },
        {
          "data": {"name": "pointsF"},
          "mark": {"type": "point", "shape": "circle", "filled": true, "fill": "white", "stroke": "#444", "strokeWidth": 1, "size": 34, "opacity": 1},
          "encoding": {"x": {"field": "x", "type": "quantitative"}, "y": {"field": "y", "type": "quantitative"}}
        },
        {
          "data": {"name": "keyPtF"},
          "mark": {"type": "point", "shape": "circle", "filled": true, "fill": "white", "stroke": "#444", "strokeWidth": 1, "size": 34, "opacity": 1},
          "encoding": {"x": {"field": "x", "type": "quantitative"}, "y": {"field": "y", "type": "quantitative"}}
        },
        {
          "data": {"name": "keyLineF"},
          "mark": {"type": "rule", "color": "#111", "strokeWidth": 1.6},
          "encoding": {"x": {"field": "x", "type": "quantitative"}, "x2": {"field": "x2"}, "y": {"field": "y", "type": "quantitative"}}
        },
        {
          "data": {"name": "notesF"},
          "mark": {"type": "text", "align": "left", "baseline": "middle", "fontSize": 9.5, "color": "#1a1a1a"},
          "encoding": {"x": {"field": "x", "type": "quantitative"}, "y": {"field": "y", "type": "quantitative"}, "text": {"field": "t"}}
        },
        {
          "data": {"name": "ratiosF"},
          "mark": {"type": "text", "align": "center", "baseline": "middle", "fontSize": 10, "color": "#1a1a1a"},
          "encoding": {"x": {"field": "x", "type": "quantitative"}, "y": {"field": "y", "type": "quantitative"}, "text": {"field": "t"}}
        }
      ]
    }
  ]
}
